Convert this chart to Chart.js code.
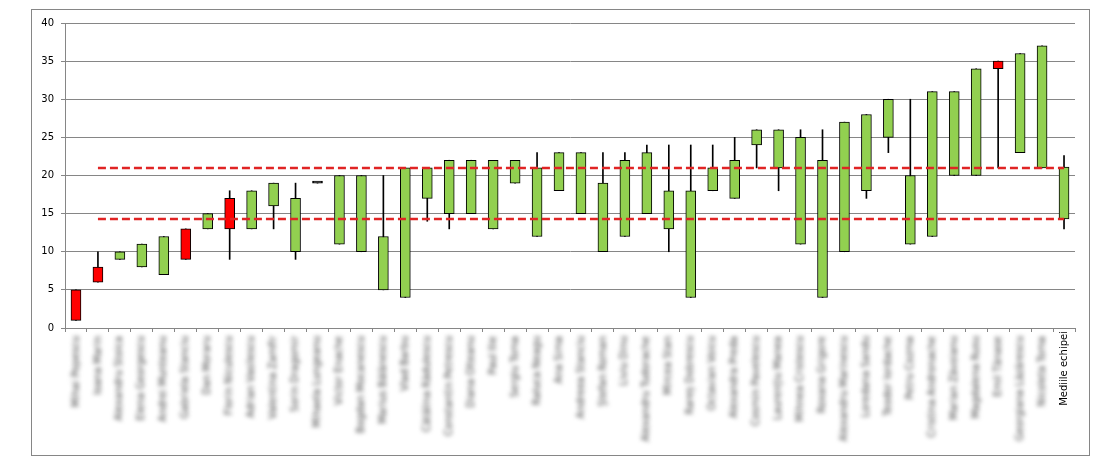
<!DOCTYPE html>
<html>
<head>
    <title>Mediile echipei</title>
    <script src="https://cdn.jsdelivr.net/npm/chart.js"></script>
    <style>
        body { margin: 0; background: #fff; }
        #cadru { position: absolute; left: 31px; top: 9px; width: 1059px; height: 447px; border: 1px solid #868686; box-sizing: border-box; }
    </style>
</head>
<body>
    <div id="cadru"><canvas id="grafic"></canvas></div>

    <script>
        // Categorii (numele sunt estompate in original)
        const nume = [
            'Mihai Popescu', 'Ioana Marin', 'Alexandru Stoica', 'Elena Georgescu', 'Andrei Munteanu',
            'Gabriela Stanciu', 'Dan Moraru', 'Florin Niculescu', 'Adrian Vasilescu', 'Valentina Zamfir',
            'Sorin Dragomir', 'Mihaela Lungeanu', 'Victor Enache', 'Bogdan Mocanescu', 'Marius Bălănescu',
            'Vlad Barbu', 'Cătălina Rădulescu', 'Constantin Petrescu', 'Diana Olteanu', 'Paul Ilie',
            'Sergiu Toma', 'Raluca Neagu', 'Ana Sima', 'Andreea Stanciu', 'Ștefan Roman',
            'Liviu Dinu', 'Alexandru Tudorache', 'Mircea Stan', 'Rareș Dobrescu', 'Octavian Voicu',
            'Alexandra Preda', 'Cosmin Pavelescu', 'Laurențiu Manea', 'Mihnea Cristescu', 'Roxana Grigore',
            'Alexandru Marinescu', 'Loredana Sandu', 'Teodor Iordache', 'Petru Cozma', 'Cristina Andronache',
            'Marian Zăvoianu', 'Magdalena Rusu', 'Emil Tănase', 'Georgiana Lăzărescu', 'Nicoleta Toma',
            'Mediile echipei'
        ];

        // Valori: deschidere, inchidere, maxim, minim
        const deschidere = [5, 8, 9, 8, 7, 13, 13, 17, 13, 16, 10, 19, 11, 10, 5, 4, 17, 15, 15, 13, 19, 12, 18, 15, 10, 12, 15, 13, 4, 18, 17, 24, 21, 11, 4, 10, 18, 25, 11, 12, 20, 20, 35, 23, 21, 14.3];
        const inchidere  = [1, 6, 10, 11, 12, 9, 15, 13, 18, 19, 17, 19, 20, 20, 12, 21, 21, 22, 22, 22, 22, 21, 23, 23, 19, 22, 23, 18, 18, 21, 22, 26, 26, 25, 22, 27, 28, 30, 20, 31, 31, 34, 34, 36, 37, 21.1];
        const maxim      = [5, 10, 10, 11, 12, 13, 15, 18, 18, 19, 19, 19, 20, 20, 20, 21, 21, 22, 22, 22, 22, 23, 23, 23, 23, 23, 24, 24, 24, 24, 25, 26, 26, 26, 26, 27, 28, 30, 30, 31, 31, 34, 35, 36, 37, 22.6];
        const minim      = [1, 6, 9, 8, 7, 9, 13, 9, 13, 13, 9, 19, 11, 10, 5, 4, 14, 13, 15, 13, 19, 12, 18, 15, 10, 12, 15, 10, 4, 18, 17, 21, 18, 11, 4, 10, 17, 23, 11, 12, 20, 20, 21, 23, 21, 13];

        // Liniile punctate (medii)
        const medieSus = 21.0;
        const medieJos = 14.3;

        // Axa Y
        const yMin = 0, yMax = 40, yPas = 5;

        const corp = deschidere.map((d, i) => [d, inchidere[i]]);
        const fitil = minim.map((m, i) => [m, maxim[i]]);

        function culoare(i) {
            if (inchidere[i] > deschidere[i]) return '#92d050';
            if (inchidere[i] < deschidere[i]) return '#ff0000';
            return '#000000';
        }

        // etichetele X sunt desenate aici ca sa pot estompa numele
        const eticheteX = {
            id: 'eticheteX',
            afterDraw(chart) {
                const ax = chart.scales.x;
                const ctx = chart.ctx;
                ctx.save();
                ctx.font = '10px "DejaVu Sans"';
                ctx.textAlign = 'right';
                ctx.textBaseline = 'middle';
                nume.forEach((txt, i) => {
                    const ultim = i === nume.length - 1;
                    ctx.filter = ultim ? 'none' : 'blur(2px)';
                    ctx.fillStyle = ultim ? '#000' : '#444';
                    ctx.save();
                    ctx.translate(ax.getPixelForValue(i), ax.top + (ultim ? 3 : 8));
                    ctx.rotate(-Math.PI / 2);
                    ctx.fillText(txt, 0, 0);
                    ctx.restore();
                });
                ctx.restore();
            }
        };

        const ctx = document.getElementById('grafic').getContext('2d');
        new Chart(ctx, {
            type: 'bar',
            data: {
                labels: nume,
                datasets: [
                    {
                        type: 'line',
                        data: nume.map((_, i) => i === 0 ? null : medieSus),
                        borderColor: '#e02424',
                        borderWidth: 2.5,
                        borderDash: [8, 4],
                        pointRadius: 0,
                        order: 0
                    },
                    {
                        type: 'line',
                        data: nume.map((_, i) => i === 0 ? null : medieJos),
                        borderColor: '#e02424',
                        borderWidth: 2.5,
                        borderDash: [8, 4],
                        pointRadius: 0,
                        order: 0
                    },
                    {
                        data: corp,
                        backgroundColor: c => culoare(c.dataIndex),
                        borderColor: '#000',
                        borderWidth: 1,
                        borderSkipped: false,
                        barThickness: 10,
                        minBarLength: 2,
                        grouped: false,
                        order: 1
                    },
                    {
                        data: fitil,
                        backgroundColor: '#000',
                        borderWidth: 0,
                        barThickness: 1,
                        grouped: false,
                        order: 2
                    }
                ]
            },
            options: {
                responsive: true,
                maintainAspectRatio: false,
                animation: false,
                layout: { padding: { left: 0, top: 13, right: 14, bottom: 0 } },
                plugins: {
                    legend: { display: false },
                    tooltip: { enabled: false }
                },
                scales: {
                    x: {
                        offset: true,
                        ticks: { display: false },
                        grid: { drawOnChartArea: false, drawTicks: true, tickLength: 4, color: '#868686', offset: true },
                        border: { color: '#868686' },
                        afterFit: s => { s.height = 127; }
                    },
                    y: {
                        min: yMin,
                        max: yMax,
                        ticks: { stepSize: yPas, color: '#000', padding: 7, font: { family: 'DejaVu Sans', size: 10 } },
                        grid: { color: '#868686', tickLength: 4 },
                        border: { color: '#868686' },
                        afterFit: s => { s.width = 33; }
                    }
                }
            },
            plugins: [eticheteX]
        });
    </script>
</body>
</html>
